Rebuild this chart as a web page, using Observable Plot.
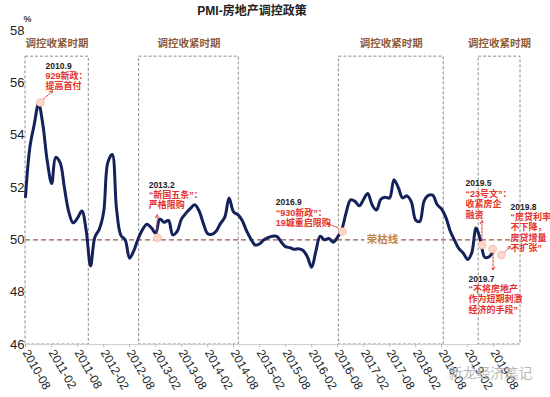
<!DOCTYPE html>
<html>
<head>
<meta charset="utf-8">
<script src="https://cdn.jsdelivr.net/npm/d3@7"></script>
<script src="https://cdn.jsdelivr.net/npm/@observablehq/plot@0.6"></script>
<style>
  html, body { margin: 0; padding: 0; background: #fff; }
  #chart svg { display: block; }
</style>
</head>
<body>
<div id="chart"></div>
<script>
// ---- Data ----
const startYear = 2010, startMonth = 7; // 2010-08 (0-based month)
const title = "PMI-房地产调控政策";
const unitLabel = "%";
const refValue = 50;
const refLabel = "荣枯线";
const periodLabel = "调控收紧时期";
const yTicks = [46, 48, 50, 52, 54, 56, 58];
// monthly values, 2010-08 ... 2019-08
const values = [
  51.65, 53.55, 54.4, 55.2, 54.4, 53.0, 52.15, 53.15, 52.95, 52.0,
  51.07, 50.65, 50.83, 51.1, 50.37, 49.0, 50.1, 50.4, 51.06, 52.95,
  53.26, 51.2, 50.17, 50.0, 49.3, 49.6, 50.05, 50.4, 50.6, 50.46,
  50.25, 50.8, 50.67, 50.74, 50.19, 50.32, 50.8, 51.02, 51.19, 51.34,
  51.12, 50.63, 50.23, 50.21, 50.33, 50.62, 50.87, 51.6, 51.07, 50.96,
  50.74, 50.34, 50.03, 49.8, 49.85, 49.99, 50.08, 50.14, 50.13, 49.93,
  49.74, 49.7, 49.64, 49.66, 49.6, 49.36, 48.95, 49.55, 50.14, 50.0,
  50.05, 49.91, 50.1, 50.42, 51.06, 51.53, 51.47, 51.3, 51.56, 51.77,
  51.33, 51.14, 51.55, 51.63, 51.6, 52.3, 52.0, 51.6, 51.68, 51.45,
  50.75, 50.7, 51.49, 51.7, 51.7, 51.35, 51.18, 50.85, 50.34, 49.98,
  49.66, 49.49, 49.25, 49.5, 50.45, 50.0, 49.33, 49.35, 49.6
];
// tightening periods, in months from 2010-08
const periodStart = [0, 26.2, 72.3, 104.6];
const periodEnd = [14.6, 49.2, 96.5, 114.2];
const periodTop = 57;
// annotations
const noteDates = ["2010.9", "2013.2", "2016.9", "2019.5", "2019.7", "2019.8"];
const noteTexts = [
  "929新政：\n提高首付",
  "“新国五条”：\n严格限购",
  "“930新政”：\n19城重启限购",
  "“23号文”：\n收紧房企\n融资",
  "“不将房地产\n作为短期刺激\n经济的手段”",
  "“房贷利率\n不下降，\n房贷增量\n不扩张”"
];
// marker position (month offset, value)
const noteMonth = [3.4, 30.4, 73.1, 105.4, 107.8, 109.8];
const noteValue = [55.25, 50.08, 50.32, 49.8, 49.65, 49.42];

// ---- Layout (positions / offsets) ----
const noteDx = [5.3, -8.7, -66.7, -16.7, -24.1, 9.2];
const noteDy = [-36.5, -52.9, -28.7, -61.5, 29.9, -48.1];
const arrowLayout = [
  {m1: 4.15, v1: 55.38, m2: 6.23, v2: 55.69},
  {m1: 30.35, v1: 50.27, m2: 30.35, v2: 50.96},
  {m1: 72.0, v1: 50.46, m2: 69.7, v2: 50.63},
  {m1: 105.35, v1: 50.0, m2: 105.35, v2: 50.73},
  {m1: 107.9, v1: 49.48, m2: 107.9, v2: 48.85},
  {m1: 110.6, v1: 49.54, m2: 111.9, v2: 49.75}
];

// helpers
const start = new Date(Date.UTC(startYear, startMonth, 1));
function M(k) {
  const f = Math.floor(k);
  const base = d3.utcMonth.offset(start, f);
  const next = d3.utcMonth.offset(start, f + 1);
  return new Date(+base + (k - f) * (next - base));
}
const series = values.map((v, i) => ({date: d3.utcMonth.offset(start, i), value: v}));
const periods = periodStart.map((s, i) => ({x1: M(s), x2: M(periodEnd[i]), mid: M((s + periodEnd[i]) / 2)}));
const notes = noteDates.map((d, i) => ({
  date: d, text: noteTexts[i], x: M(noteMonth[i]), y: noteValue[i], dx: noteDx[i], dy: noteDy[i]
}));
const arrows = arrowLayout.map(a => ({x1: M(a.m1), y1: a.v1, x2: M(a.m2), y2: a.v2}));
const xTicks = d3.utcMonth.range(M(0), M(108.5), 6);

const red = "#e5322d";
const font = "'Liberation Sans', 'Noto Sans CJK SC', sans-serif";

const marks = [
  Plot.rect(periods, {x1: "x1", x2: "x2", y1: 46, y2: periodTop, fill: "none", stroke: "#8a8a8a", strokeWidth: 1, strokeDasharray: "3,2"}),
  Plot.text(periods, {x: "mid", y: periodTop, text: () => periodLabel, dy: -13, fill: "#8b5a3a", fontSize: 10.5, fontWeight: "bold", fontFamily: "'Noto Sans CJK SC', serif"}),
  Plot.ruleY([46], {stroke: "#d0d0d0"}),
  Plot.ruleY([refValue], {stroke: "#9a5a50", strokeWidth: 1.3, strokeDasharray: "5,3"}),
  Plot.text([refLabel], {x: M(82.4), y: refValue, text: d => d, fill: "#c0843f", fontSize: 10.5, fontWeight: "bold", fontFamily: "'Noto Sans CJK SC', serif", stroke: "white", strokeWidth: 6}),
  Plot.line(series, {x: "date", y: "value", curve: "catmull-rom", stroke: "#14215a", strokeWidth: 3}),
  Plot.arrow(arrows, {x1: "x1", y1: "y1", x2: "x2", y2: "y2", stroke: red, strokeWidth: 1, strokeDasharray: "2,1.5", headLength: 5}),
  Plot.dot(notes, {x: "x", y: "y", r: 4, fill: "#fbd6c8", stroke: "#e39a86", strokeWidth: 0.8, strokeDasharray: "1,1"}),
  ...notes.map(n => Plot.text([n], {x: "x", y: "y", text: "date", dx: n.dx, dy: n.dy, textAnchor: "start", fill: "#222", fontSize: 8.5, fontWeight: "bold"})),
  ...notes.map(n => Plot.text([n], {x: "x", y: "y", text: "text", dx: n.dx, dy: n.dy + 5.5, textAnchor: "start", lineAnchor: "top", lineHeight: 1.17, fill: red, fontSize: 9, fontWeight: "bold", fontFamily: font})),
  Plot.axisY({ticks: yTicks, tickSize: 0, tickPadding: 1, fontSize: 13, label: null, fill: "#222"}),
  Plot.axisX({ticks: xTicks, tickFormat: d3.utcFormat("%Y-%m"), tickRotate: 60, tickSize: 3, tickPadding: 3, fontSize: 12, label: null, stroke: "#bbb", fill: "#222"}),
  Plot.text([title], {frameAnchor: "top", dx: -21, dy: -19, lineAnchor: "middle", text: d => d, fontWeight: "bold", fontSize: 12, fill: "#222", fontFamily: font}),
  Plot.text([unitLabel], {frameAnchor: "top-left", dx: -2, dy: -11, lineAnchor: "middle", text: d => d, fontWeight: "bold", fontSize: 9, fill: "#444"}),
  Plot.text(["新龙经济笔记"], {frameAnchor: "bottom-right", dx: 12, dy: 29, lineAnchor: "middle", text: d => d, textAnchor: "end", fontSize: 14, fill: "#b8b8b8", fontFamily: "'Noto Sans CJK SC', sans-serif"})
];

const chart = Plot.plot({
  width: 550,
  height: 397,
  marginTop: 30,
  marginLeft: 25,
  marginRight: 30,
  marginBottom: 53,
  style: {fontFamily: font, background: "white", overflow: "visible"},
  x: {type: "utc", domain: [M(0), M(114.2)]},
  y: {domain: [46, 58]},
  marks
});
document.getElementById("chart").appendChild(chart);
</script>
</body>
</html>
